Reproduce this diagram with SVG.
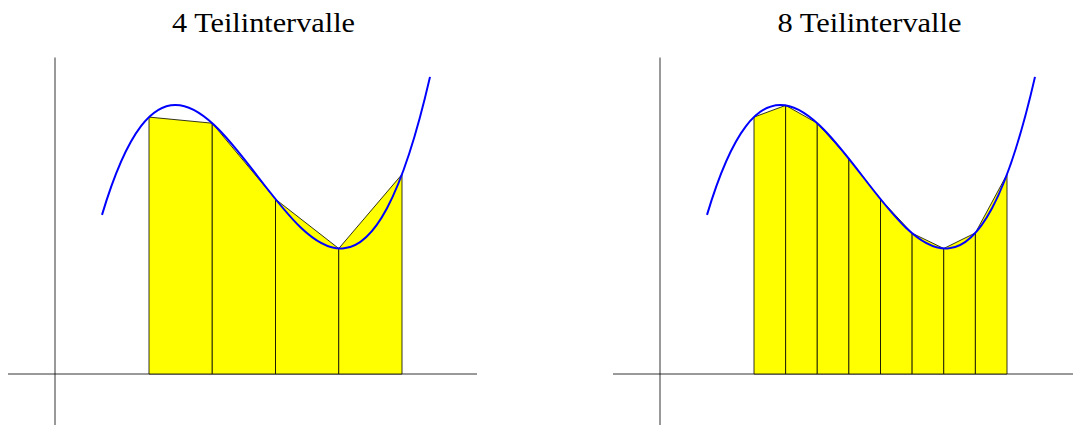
<svg xmlns="http://www.w3.org/2000/svg" width="1073" height="425" viewBox="0 0 1073 425">
<style>
.ax{stroke:#000;stroke-width:0.8;fill:none}
.tr{fill:#ffff00;stroke:#000;stroke-width:0.8;stroke-linejoin:miter}
.cv{fill:none;stroke:#0000ff;stroke-width:2}
.tt{font-family:"Liberation Serif","DejaVu Serif",serif;font-size:28px;fill:#000;text-anchor:middle}
</style>
<defs>
<path id="curve" class="cv" d="M102,214.9 C211.33,-150.4 320.67,552.3 430,76.9"/>
</defs>
<g id="panel-left">
<text class="tt" x="263.5" y="32" textLength="183" lengthAdjust="spacingAndGlyphs">4 Teilintervalle</text>
<g id="axes-left">
<line class="ax" x1="8" y1="374" x2="477" y2="374"/>
<line class="ax" x1="55" y1="57.5" x2="55" y2="425"/>
</g>
<g id="trapezoids-left">
<polygon class="tr" points="149,374 149,117.1 212.25,123.2 212.25,374"/>
<polygon class="tr" points="212.25,374 212.25,123.2 275.5,199.2 275.5,374"/>
<polygon class="tr" points="275.5,374 275.5,199.2 338.75,248.5 338.75,374"/>
<polygon class="tr" points="338.75,374 338.75,248.5 402,174.3 402,374"/>
</g>
<use href="#curve"/>
</g>
<g id="panel-right">
<text class="tt" x="869.5" y="32" textLength="184" lengthAdjust="spacingAndGlyphs">8 Teilintervalle</text>
<g id="axes-right">
<line class="ax" x1="613" y1="374" x2="1082" y2="374"/>
<line class="ax" x1="660" y1="57.5" x2="660" y2="425"/>
</g>
<g id="trapezoids-right" transform="translate(605,0)">
<polygon class="tr" points="149,374 149,117.1 180.625,105.4 180.625,374"/>
<polygon class="tr" points="180.625,374 180.625,105.4 212.25,123.2 212.25,374"/>
<polygon class="tr" points="212.25,374 212.25,123.2 243.875,158.5 243.875,374"/>
<polygon class="tr" points="243.875,374 243.875,158.5 275.5,199.2 275.5,374"/>
<polygon class="tr" points="275.5,374 275.5,199.2 307.125,233.2 307.125,374"/>
<polygon class="tr" points="307.125,374 307.125,233.2 338.75,248.5 338.75,374"/>
<polygon class="tr" points="338.75,374 338.75,248.5 370.375,232.9 370.375,374"/>
<polygon class="tr" points="370.375,374 370.375,232.9 402,174.3 402,374"/>
<use href="#curve"/>
</g>
</g>
</svg>
